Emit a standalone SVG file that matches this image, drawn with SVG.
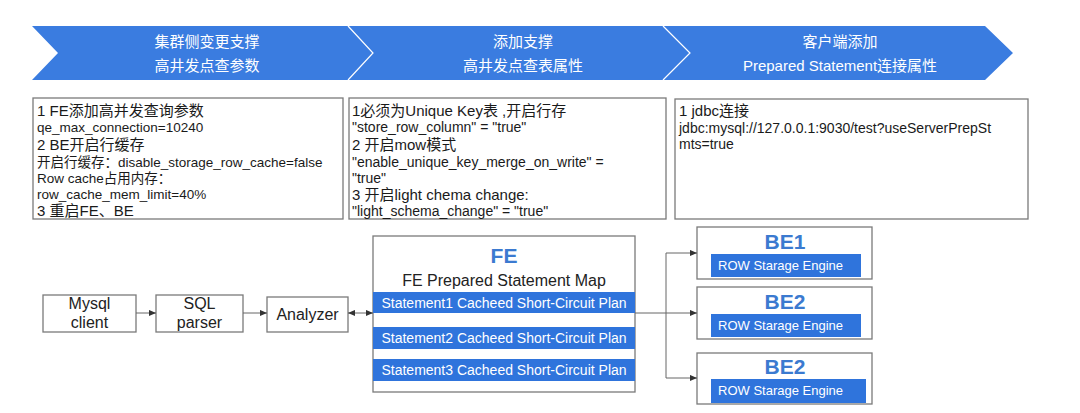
<svg xmlns="http://www.w3.org/2000/svg" width="1080" height="413" viewBox="0 0 1080 413">
<defs>
<style>
text{font-family:"Liberation Sans","Noto Sans CJK SC",sans-serif;}
.band{fill:#3a7ce0;}
.sep{fill:none;stroke:#ffffff;stroke-width:1.2;}
.bt{fill:#ffffff;font-size:15px;text-anchor:middle;}
.box{fill:#ffffff;stroke:#7a7a7a;stroke-width:1.3;}
.h{fill:#1a1a1a;font-size:15px;}
.s{fill:#1a1a1a;font-size:13.5px;}
.s2{fill:#1a1a1a;font-size:14px;}
.bar{fill:#2f74dc;}
.wt{fill:#ffffff;font-size:13px;}
.wt2{fill:#ffffff;font-size:14px;text-anchor:middle;}
.title{fill:#3b7ad0;font-size:21px;font-weight:bold;text-anchor:middle;}
.lbl{fill:#222222;font-size:16px;text-anchor:middle;}
.con{fill:none;stroke:#666666;stroke-width:1;}
</style>
<marker id="ah" viewBox="0 0 8 8" refX="8" refY="4" markerWidth="7" markerHeight="7" orient="auto-start-reverse" markerUnits="userSpaceOnUse">
<path d="M0,0.5 L8,4 L0,7.5 Z" fill="#333333"/>
</marker>
</defs>

<g id="banner">
<path class="band" d="M32,26 L985,26 L1013,53 L985,80 L32,80 L58,53 Z"/>
<polyline class="sep" points="348,26 373,53 348,80"/>
<polyline class="sep" points="663,26 690,53 663,80"/>
<text class="bt" x="207" y="47">集群侧变更支撑</text>
<text class="bt" x="207" y="71">高井发点查参数</text>
<text class="bt" x="523" y="47">添加支撑</text>
<text class="bt" x="523" y="71">高井发点查表属性</text>
<text class="bt" x="840" y="47">客户端添加</text>
<text class="bt" x="840" y="71">Prepared Statement连接属性</text>
</g>

<g id="box1">
<rect class="box" x="33" y="98" width="310" height="121"/>
<text class="h" x="37" y="116">1 FE添加高并发查询参数</text>
<text class="s" x="37" y="132">qe_max_connection=10240</text>
<text class="h" x="37" y="150">2 BE开启行缓存</text>
<text class="s" x="37" y="167">开启行缓存：disable_storage_row_cache=false</text>
<text class="s" x="37" y="183">Row cache占用内存：</text>
<text class="s" x="37" y="199">row_cache_mem_limit=40%</text>
<text class="h" x="37" y="216">3 重启FE、BE</text>
</g>

<g id="box2">
<rect class="box" x="349" y="98" width="317" height="121"/>
<text class="h" x="352" y="116">1必须为Unique Key表 ,开启行存</text>
<text class="s2" x="352" y="132">"store_row_column" = "true"</text>
<text class="h" x="352" y="150">2 开启mow模式</text>
<text class="s2" x="352" y="167">"enable_unique_key_merge_on_write" =</text>
<text class="s2" x="352" y="183">"true"</text>
<text class="h" x="352" y="200">3 开启light chema change:</text>
<text class="s2" x="352" y="216">"light_schema_change" = "true"</text>
</g>

<g id="box3">
<rect class="box" x="675" y="99" width="353" height="120"/>
<text class="h" x="679" y="116">1 jdbc连接</text>
<text class="s2" x="679" y="133">jdbc:mysql://127.0.0.1:9030/test?useServerPrepSt</text>
<text class="s2" x="679" y="149">mts=true</text>
</g>

<g id="mysql-client">
<rect class="box" x="43" y="295" width="93" height="37"/>
<text class="lbl" x="89.5" y="309">Mysql</text>
<text class="lbl" x="89.5" y="328">client</text>
</g>

<g id="sql-parser">
<rect class="box" x="156" y="295" width="87" height="37"/>
<text class="lbl" x="199.5" y="309">SQL</text>
<text class="lbl" x="199.5" y="328">parser</text>
</g>

<g id="analyzer">
<rect class="box" x="267" y="297" width="81" height="35"/>
<text class="lbl" x="307.5" y="320">Analyzer</text>
</g>

<g id="fe">
<rect class="box" x="373" y="236" width="262" height="156"/>
<text class="title" x="504" y="263">FE</text>
<text class="lbl" x="504" y="286">FE Prepared Statement Map</text>
<rect class="bar" x="373" y="292" width="262" height="21"/>
<text class="wt2" x="504" y="307.5">Statement1 Cacheed Short-Circuit Plan</text>
<rect class="bar" x="373" y="327" width="262" height="22"/>
<text class="wt2" x="504" y="343">Statement2 Cacheed Short-Circuit Plan</text>
<rect class="bar" x="373" y="359" width="262" height="22"/>
<text class="wt2" x="504" y="375">Statement3 Cacheed Short-Circuit Plan</text>
</g>

<g id="be1">
<rect class="box" x="697" y="227" width="175" height="52"/>
<text class="title" x="785" y="249">BE1</text>
<rect class="bar" x="711" y="254" width="150" height="23"/>
<text class="wt" x="718" y="270">ROW Starage Engine</text>
</g>

<g id="be2">
<rect class="box" x="697" y="287" width="175" height="52"/>
<text class="title" x="785" y="309">BE2</text>
<rect class="bar" x="711" y="314" width="150" height="23"/>
<text class="wt" x="718" y="330">ROW Starage Engine</text>
</g>

<g id="be3">
<rect class="box" x="697" y="353" width="175" height="51"/>
<text class="title" x="785" y="374">BE2</text>
<rect class="bar" x="711" y="379" width="155" height="24"/>
<text class="wt" x="718" y="395">ROW Starage Engine</text>
</g>

<g id="connectors">
<line class="con" x1="136" y1="313" x2="156" y2="313" marker-end="url(#ah)"/>
<line class="con" x1="243" y1="313" x2="267" y2="313" marker-end="url(#ah)"/>
<line class="con" x1="348" y1="313" x2="373" y2="313" marker-start="url(#ah)" marker-end="url(#ah)"/>
<line class="con" x1="635" y1="313" x2="666" y2="313"/>
<line class="con" x1="666" y1="253" x2="666" y2="378"/>
<line class="con" x1="666" y1="253" x2="697" y2="253" marker-end="url(#ah)"/>
<line class="con" x1="666" y1="313" x2="697" y2="313" marker-end="url(#ah)"/>
<line class="con" x1="666" y1="378" x2="697" y2="378" marker-end="url(#ah)"/>
</g>
</svg>
